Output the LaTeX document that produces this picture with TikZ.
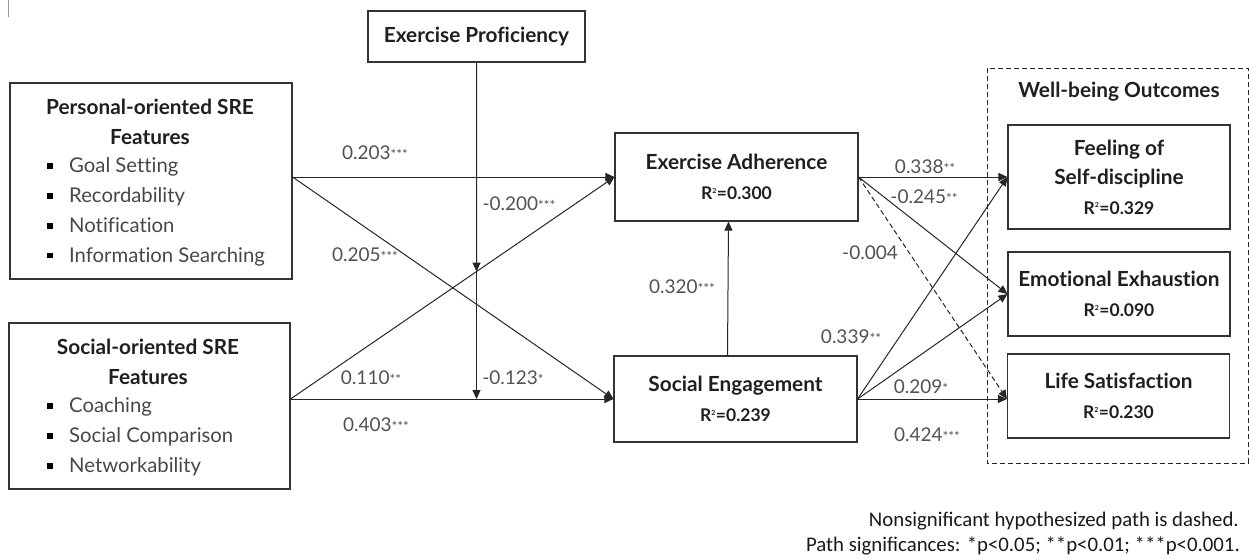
\documentclass[tikz,border=0pt]{standalone}
\usepackage{fontspec}
\setmainfont{Lato}[Ligatures={NoCommon,NoRare}]
\newfontfamily\lato{Lato}[Ligatures={NoCommon,NoRare}]
\newfontfamily\carl{Carlito}
\usetikzlibrary{arrows.meta,calc}
\newcommand\titlef{\lato\bfseries\fontsize{20.8}{29.5}\selectfont}
\newcommand\rsqf{\fontsize{17.5}{28.5}\selectfont}
\newcommand\listf{\lato\fontsize{20.3}{29.8}\selectfont}
\newcommand\labf{\lato\fontsize{19}{20}\selectfont}
\newcommand\st[1]{{\fontsize{13.5}{13.5}\selectfont #1}}
\newcommand\rtwo{R\textsuperscript{\fontsize{7}{7}\selectfont 2}}
\newcommand\bul{\makebox[22pt][l]{\textcolor{black}{\rule[4pt]{5.5pt}{5.5pt}}}}
\begin{document}
\begin{tikzpicture}[x=1pt,y=-1pt,
  box/.style={draw=black!80, line width=1.1pt, inner sep=0pt, align=center, font=\titlef, text=black!88},
  txt/.style={inner sep=0pt, align=center, font=\titlef, text=black!88},
  lst/.style={inner sep=0pt, align=left, font=\listf, text=black!72, anchor=west},
  arr/.style={draw=black!85, line width=1pt, -{Triangle[length=9pt,width=8pt]}},
  lab/.style={font=\labf, text=black!68, inner sep=0pt},
  note/.style={font=\carl\fontsize{20.8}{25}\selectfont, text=black!90, inner sep=0pt, anchor=east}]
\useasboundingbox (0,0) rectangle (1250,558);
\draw[black!40, line width=1pt] (8,0) -- (8,17);

% boxes
\node[box, minimum width=217, minimum height=51] (ep) at (476.5,36.5) {Exercise Proficiency};
\node[box, minimum width=282, minimum height=196] (pers) at (151,181) {};
\node[txt] (perst) at (150,122) {Personal-oriented SRE\\Features};
\node[lst] (persl) at (47,212) {\bul Goal Setting\\\bul Recordability\\\bul Notification\\\bul Information Searching};
\node[box, minimum width=281, minimum height=166] (soc) at (149.5,406) {};
\node[txt] (soct) at (148,362) {Social-oriented SRE\\Features};
\node[lst] (socl) at (47,437) {\bul Coaching\\\bul Social Comparison\\\bul Networkability};

\node[box, minimum width=243, minimum height=88] (ea) at (736.5,177) {Exercise Adherence\\{\rsqf\rtwo=0.300}};
\node[box, minimum width=243, minimum height=86] (se) at (735.5,399) {Social Engagement\\{\rsqf\rtwo=0.239}};

\draw[dashed, black!85, line width=1pt, dash pattern=on 5pt off 3pt] (987,68) rectangle (1248,463);
\node[txt] (wbt) at (1119,92) {Well-being Outcomes};
\node[box, minimum width=222, minimum height=104] (fsd) at (1119,177) {Feeling of\\Self-discipline\\{\rsqf\rtwo=0.329}};
\node[box, minimum width=222, minimum height=84] (ee) at (1119,294) {Emotional Exhaustion\\{\rsqf\rtwo=0.090}};
\node[box, minimum width=222, minimum height=84] (ls) at (1118.5,396) {Life Satisfaction\\{\rsqf\rtwo=0.230}};

% connection points
\coordinate (p1) at (pers.east |- ea.west);
\coordinate (s1) at (soc.east |- se.west);
\coordinate (m2) at (ep.south |- se.west);
\coordinate (m1) at (intersection of ep.south--m2 and s1--ea.west);
\coordinate (lsin) at (ls.west |- se.east);

% connectors
\draw[arr] (p1) -- (ea.west);
\draw[arr] (p1) -- (se.west);
\draw[arr] (s1) -- (ea.west);
\draw[arr] (s1) -- (se.west);
\draw[arr] (ep.south) -- (m2);
\draw[arr] (ep.south) -- (m1);
\draw[arr] ($(se.north)+(-8,0)$) -- ($(ea.south)+(-8,0)$);
\draw[arr] (ea.east) -- (fsd.west);
\draw[arr] (ea.east) -- (ee.west);
\draw[arr, dashed, dash pattern=on 5pt off 3pt] (ea.east) -- (lsin);
\draw[arr] (se.east) -- (fsd.west);
\draw[arr] (se.east) -- (ee.west);
\draw[arr] (se.east) -- (lsin);

% labels
\node[lab] (l203) at (375,153) {0.203\st{***}};
\node[lab] (l205) at (365,255) {0.205\st{***}};
\node[lab] (l200) at (519,204) {-0.200\st{***}};
\node[lab] (l123) at (513,378) {-0.123\st{*}};
\node[lab] (l110) at (371,378) {0.110\st{**}};
\node[lab] (l403) at (376,425) {0.403\st{***}};
\node[lab] (l320) at (682,287) {0.320\st{***}};
\node[lab] (l338) at (925,167) {0.338\st{**}};
\node[lab] (l245) at (924,197) {-0.245\st{**}};
\node[lab] (l004) at (870,253) {-0.004};
\node[lab] (l339) at (851,337) {0.339\st{**}};
\node[lab] (l209) at (921,387) {0.209\st{*}};
\node[lab] (l424) at (927,435) {0.424\st{***}};

% notes
\node[note] (n1) at (1239,521) {Nonsignificant hypothesized path is dashed.};
\node[note] (n2) at (1240,546) {Path significances: *p<0.05; **p<0.01; ***p<0.001.};
\end{tikzpicture}
\end{document}
